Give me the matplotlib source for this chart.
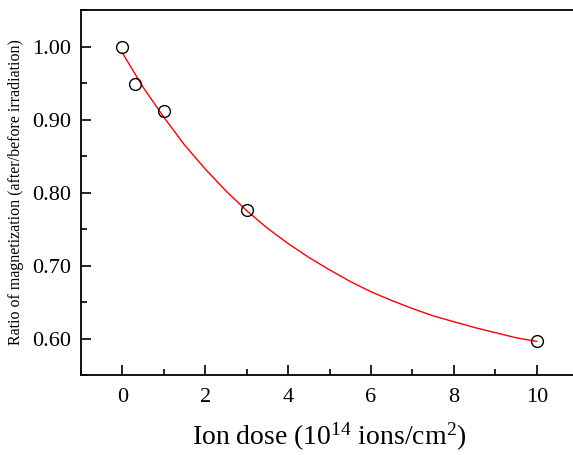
import matplotlib.pyplot as plt
from matplotlib.ticker import MultipleLocator, FormatStrFormatter

# measured points
dose = [0, 0.3, 1, 3, 10]
ratio = [1.000, 0.948, 0.911, 0.776, 0.597]

# red fit curve
fit_x = [0, 0.5, 1, 1.5, 2, 2.5, 3, 3.5, 4, 4.5, 5, 5.5, 6, 6.5, 7, 7.5, 8, 8.5, 9, 9.5, 10]
fit_y = [0.991, 0.944, 0.903, 0.865, 0.832, 0.802, 0.775, 0.751, 0.730, 0.711, 0.694,
         0.678, 0.664, 0.652, 0.641, 0.631, 0.623, 0.615, 0.608, 0.601, 0.596]

plt.rcParams['font.family'] = ['Liberation Serif', 'DejaVu Serif']
plt.rcParams['mathtext.fontset'] = 'custom'
plt.rcParams['mathtext.rm'] = 'Liberation Serif'

fig = plt.figure(figsize=(5.73, 4.55), dpi=100)
ax = fig.add_axes([0.1414, 0.1758, 0.8677, 0.8022])

ax.plot(fit_x, fit_y, color='red', linewidth=1.0, zorder=2)
ax.plot(dose, ratio, linestyle='none', marker='o', markersize=8.5,
        markerfacecolor='none', markeredgecolor='black', markeredgewidth=1.0, zorder=3)

ax.set_xlim(-1, 11)
ax.set_ylim(0.55, 1.05)
ax.xaxis.set_major_locator(MultipleLocator(2))
ax.xaxis.set_minor_locator(MultipleLocator(1))
ax.yaxis.set_major_locator(MultipleLocator(0.1))
ax.yaxis.set_minor_locator(MultipleLocator(0.05))
ax.yaxis.set_major_formatter(FormatStrFormatter('%.2f'))

ax.tick_params(which='both', direction='in', top=False, right=False, width=1.2)
ax.tick_params(which='major', length=7, labelsize=16)
ax.tick_params(axis='x', which='major', pad=9)
ax.tick_params(axis='y', which='major', pad=7)
ax.tick_params(which='minor', length=4)

for side in ['left', 'bottom', 'top']:
    ax.spines[side].set_linewidth(1.3)
ax.spines['right'].set_visible(False)

ax.set_xlabel(r'Ion dose (10$\mathregular{^{14}}$ ions/cm$\mathregular{^{2}}$)', fontsize=20, labelpad=10)
ax.set_ylabel('Ratio of magnetization (after/before irradiation)', fontsize=11.5, labelpad=6)

fig.savefig('out.png', dpi=100)
